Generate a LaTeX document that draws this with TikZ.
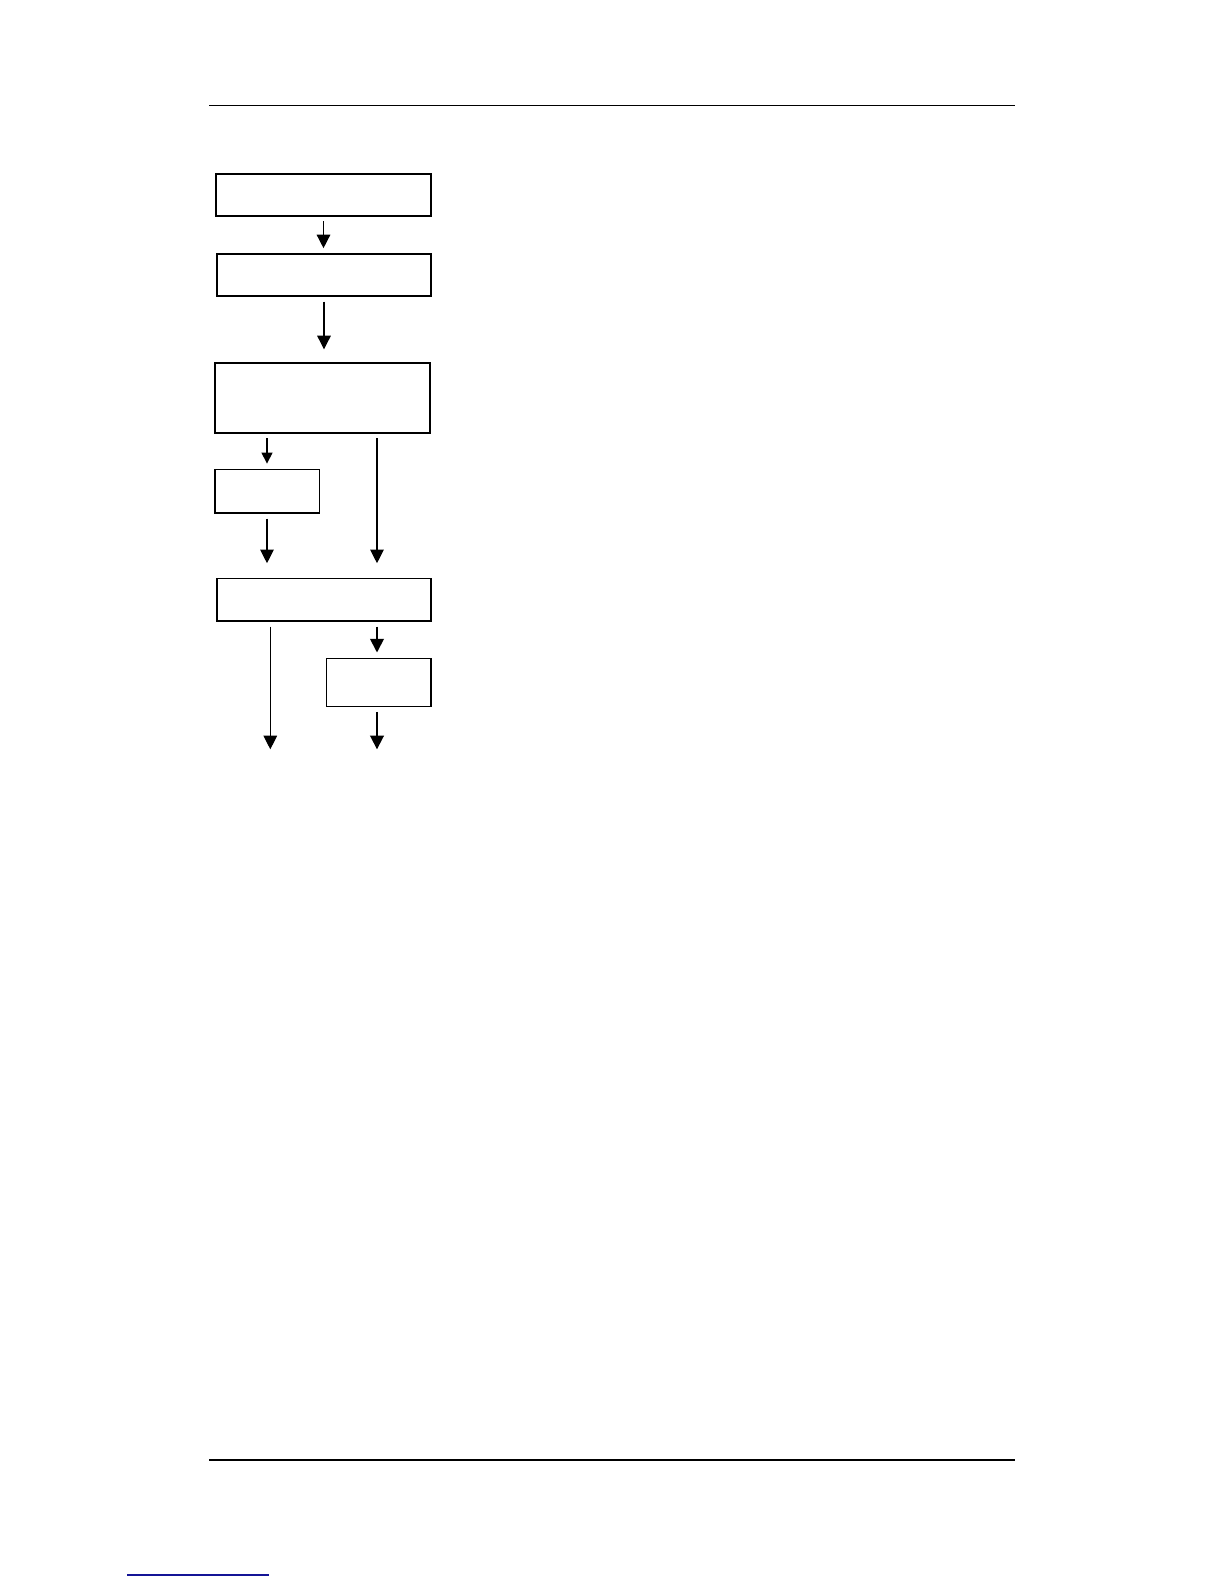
\documentclass[tikz,border=0pt]{standalone}
\usepackage{tikz}
\usetikzlibrary{arrows.meta}
\definecolor{linkblue}{RGB}{20,20,150}
\tikzset{
  blk/.style={draw, line width=0.8pt, inner sep=0pt, minimum width=107.5pt, minimum height=21pt},
  arr/.style={-{Triangle[length=6.8pt,width=6.8pt]}, line width=0.55pt, shorten <=2.4pt, shorten >=2.5pt}
}
\begin{document}
\begin{tikzpicture}[x=0.5pt,y=-0.5pt]
  \useasboundingbox (0,0) rectangle (1224,1584);
  \draw [line width=0.6pt] (209,105.5) -- (1015,105.5);
  \draw [line width=0.6pt] (209,1460) -- (1015,1460);
  \draw [linkblue, line width=1pt] (127,1575) -- (269,1575);
  \node [blk] at (323.5,194.8) (b1) {};
  \node [blk, minimum width=107pt] at (324,275) (b2) {};
  \node [blk, minimum height=35pt] at (322.2,397.7) (b3) {};
  \node [blk, minimum width=52.3pt, minimum height=21.8pt] at (267,491.2) (b4) {};
  \node [blk, minimum width=107pt, minimum height=21.3pt] at (323.7,599.7) (b5) {};
  \node [blk, minimum width=52.2pt, minimum height=24pt] at (378.5,682.3) (b6) {};
  \coordinate (out0) at (270.3,749.3);
  \coordinate (out1) at (377,749.3);
  \draw [arr, line width=0.7pt] (b1.south) -- (b1.south |- b2.north);
  \draw [arr, shorten >=6.3pt] (b2.south) -- (b2.south |- b3.north);
  \draw [arr, -{Triangle[length=5.5pt,width=5.5pt]}] (b3.south -| b4) -- (b4.north);
  \draw [arr, shorten >=7.2pt] (b3.south -| out1) -- (out1 |- b5.north);
  \draw [arr, shorten >=7.2pt] (b4.south) -- (b4.south |- b5.north);
  \draw [arr, shorten >=0pt] (b5.south -| out0) -- (out0);
  \draw [arr, line width=0.9pt] (b5.south -| out1) -- (out1 |- b6.north);
  \draw [arr, line width=0.9pt, shorten >=0pt] (b6.south -| out1) -- (out1);
\end{tikzpicture}
\end{document}
